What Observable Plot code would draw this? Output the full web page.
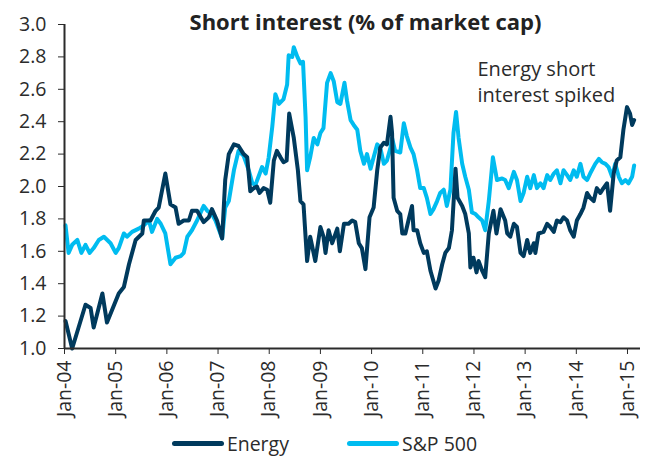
<!DOCTYPE html>
<html>
<head>
<meta charset="utf-8">
<script src="https://cdn.jsdelivr.net/npm/d3@7"></script>
<script src="https://cdn.jsdelivr.net/npm/@observablehq/plot@0.6"></script>
<style>
  html, body { margin: 0; padding: 0; background: #ffffff; }
  body { width: 645px; height: 461px; overflow: hidden; font-family: "Open Sans", "Noto Sans", sans-serif; color: #2b2b2b; }
  #chart svg { display: block; }
  #legend { display: flex; justify-content: center; align-items: center; gap: 58px; height: 36px; margin-left: 4px; }
  .item { display: flex; align-items: center; font-size: 19.5px; }
  .sw { width: 52px; height: 5px; border-radius: 3px; margin-right: 3px; }
</style>
</head>
<body>
<div id="chart"></div>
<div id="legend"></div>
<script>
// ---- Data ----
const title = "Short interest (% of market cap)";
const annotation = "Energy short\ninterest spiked";
const seriesNames = ["Energy", "S&P 500"];
const seriesColors = ["#003a5d", "#00bcf0"];

// decimal-year time stamps and values, Energy sector
const energyT = [2004.02,2004.15,2004.41,2004.51,2004.57,2004.74,2004.83,2005.06,2005.16,2005.26,2005.39,2005.52,2005.55,2005.68,2005.78,2005.84,2005.97,2006.07,2006.17,2006.23,2006.33,2006.43,2006.49,2006.59,2006.72,2006.82,2006.88,2006.98,2007.08,2007.14,2007.21,2007.31,2007.40,2007.50,2007.57,2007.63,2007.70,2007.76,2007.81,2007.89,2007.96,2008.02,2008.09,2008.15,2008.22,2008.28,2008.34,2008.39,2008.48,2008.56,2008.61,2008.67,2008.74,2008.80,2008.90,2009.00,2009.06,2009.10,2009.16,2009.23,2009.33,2009.38,2009.46,2009.55,2009.62,2009.68,2009.75,2009.81,2009.88,2009.96,2010.04,2010.11,2010.17,2010.24,2010.30,2010.37,2010.40,2010.43,2010.50,2010.56,2010.60,2010.66,2010.72,2010.79,2010.82,2010.89,2010.95,2011.02,2011.08,2011.15,2011.25,2011.31,2011.38,2011.44,2011.51,2011.57,2011.64,2011.68,2011.77,2011.83,2011.90,2011.93,2011.99,2012.05,2012.09,2012.16,2012.22,2012.29,2012.38,2012.44,2012.52,2012.61,2012.65,2012.71,2012.78,2012.84,2012.91,2012.97,2013.04,2013.10,2013.17,2013.20,2013.26,2013.36,2013.43,2013.49,2013.56,2013.62,2013.69,2013.75,2013.82,2013.88,2013.95,2014.01,2014.08,2014.14,2014.21,2014.27,2014.34,2014.40,2014.47,2014.53,2014.60,2014.66,2014.73,2014.79,2014.86,2014.92,2014.99,2015.05,2015.09,2015.13];
const energyV = [1.17,1.00,1.27,1.25,1.13,1.34,1.16,1.34,1.38,1.52,1.67,1.71,1.79,1.79,1.85,1.87,2.08,1.89,1.87,1.77,1.79,1.79,1.85,1.85,1.78,1.81,1.86,1.79,1.68,2.04,2.20,2.26,2.25,2.20,2.18,1.97,1.99,2.00,1.96,1.99,1.98,1.90,2.16,2.22,2.18,2.15,2.16,2.45,2.30,2.10,1.91,1.89,1.54,1.69,1.54,1.75,1.69,1.59,1.73,1.65,1.74,1.60,1.77,1.77,1.79,1.78,1.65,1.62,1.49,1.81,1.87,2.10,2.24,2.27,2.26,2.43,2.33,1.93,1.85,1.83,1.71,1.71,1.79,1.88,1.73,1.73,1.65,1.59,1.60,1.48,1.37,1.42,1.52,1.59,1.62,1.73,2.11,1.93,1.88,1.83,1.71,1.50,1.56,1.47,1.54,1.48,1.44,1.71,1.85,1.71,1.86,1.79,1.71,1.69,1.77,1.75,1.59,1.57,1.67,1.59,1.65,1.59,1.71,1.72,1.77,1.75,1.72,1.79,1.78,1.81,1.79,1.73,1.69,1.79,1.83,1.87,1.96,1.93,1.91,1.99,1.96,1.99,2.02,1.85,2.08,2.16,2.18,2.35,2.49,2.45,2.38,2.41];

// decimal-year time stamps and values, S&P 500
const spT = [2004.02,2004.08,2004.15,2004.25,2004.33,2004.41,2004.49,2004.57,2004.67,2004.77,2004.90,2005.00,2005.06,2005.16,2005.22,2005.32,2005.45,2005.55,2005.65,2005.71,2005.81,2005.88,2005.97,2006.07,2006.17,2006.27,2006.33,2006.40,2006.49,2006.59,2006.69,2006.72,2006.79,2006.88,2006.95,2007.08,2007.14,2007.21,2007.31,2007.40,2007.50,2007.60,2007.67,2007.73,2007.79,2007.86,2007.93,2007.99,2008.06,2008.12,2008.19,2008.28,2008.35,2008.38,2008.45,2008.48,2008.55,2008.61,2008.66,2008.71,2008.74,2008.80,2008.87,2008.94,2009.00,2009.06,2009.13,2009.20,2009.26,2009.33,2009.39,2009.47,2009.52,2009.59,2009.65,2009.72,2009.78,2009.85,2009.91,2009.98,2010.04,2010.11,2010.17,2010.24,2010.30,2010.37,2010.40,2010.46,2010.56,2010.63,2010.69,2010.76,2010.82,2010.89,2010.95,2011.02,2011.08,2011.15,2011.21,2011.28,2011.34,2011.41,2011.47,2011.54,2011.60,2011.65,2011.70,2011.77,2011.83,2011.90,2011.96,2012.03,2012.09,2012.16,2012.22,2012.29,2012.37,2012.45,2012.55,2012.61,2012.68,2012.78,2012.84,2012.91,2012.97,2013.04,2013.10,2013.17,2013.23,2013.30,2013.36,2013.43,2013.49,2013.56,2013.62,2013.69,2013.75,2013.82,2013.88,2013.95,2014.01,2014.08,2014.14,2014.21,2014.27,2014.37,2014.44,2014.50,2014.57,2014.63,2014.70,2014.76,2014.83,2014.89,2014.96,2015.02,2015.09,2015.13];
const spV = [1.76,1.59,1.64,1.67,1.59,1.64,1.59,1.62,1.67,1.69,1.65,1.59,1.62,1.71,1.69,1.72,1.74,1.76,1.79,1.72,1.80,1.77,1.71,1.52,1.56,1.57,1.59,1.69,1.73,1.79,1.86,1.88,1.85,1.83,1.79,1.68,1.87,1.91,2.10,2.22,2.19,2.10,2.02,2.01,2.06,2.12,2.08,2.18,2.37,2.57,2.51,2.54,2.63,2.81,2.80,2.86,2.80,2.76,2.77,2.43,2.10,2.18,2.30,2.26,2.33,2.36,2.64,2.70,2.65,2.52,2.51,2.64,2.53,2.41,2.38,2.35,2.22,2.14,2.20,2.11,2.18,2.26,2.24,2.14,2.16,2.24,2.30,2.22,2.21,2.39,2.31,2.24,2.20,2.10,1.99,1.99,1.93,1.83,1.86,1.91,1.96,1.98,1.88,1.98,2.33,2.46,2.30,2.14,2.06,1.98,1.84,1.83,1.81,1.79,1.73,1.91,2.18,2.04,2.05,2.04,1.99,2.09,2.04,1.91,1.96,2.06,1.99,2.07,1.99,2.02,1.99,2.07,2.04,2.08,2.10,2.02,2.10,2.07,2.04,2.10,2.06,2.14,2.06,2.04,2.08,2.14,2.17,2.15,2.14,2.12,2.06,2.14,2.06,2.02,2.04,2.02,2.06,2.13];

const xTickValues = [2004,2005,2006,2007,2008,2009,2010,2011,2012,2013,2014,2015];
const xTickLabels = ["Jan-04","Jan-05","Jan-06","Jan-07","Jan-08","Jan-09","Jan-10","Jan-11","Jan-12","Jan-13","Jan-14","Jan-15"];
const yTickValues = [1.0,1.2,1.4,1.6,1.8,2.0,2.2,2.4,2.6,2.8,3.0];

// ---- Build table ----
const rows = [
  ...energyT.map((t, i) => ({t, v: energyV[i], s: seriesNames[0]})),
  ...spT.map((t, i) => ({t, v: spV[i], s: seriesNames[1]}))
];
const order = [seriesNames[1], seriesNames[0]]; // draw Energy on top

const axisColor = "#2b2b2b";
const chart = Plot.plot({
  width: 645,
  height: 425,
  marginLeft: 64,
  marginRight: 5,
  marginTop: 24,
  marginBottom: 77,
  style: {fontFamily: '"Open Sans", "Noto Sans", sans-serif', fontSize: "19.5px", color: axisColor, background: "#ffffff"},
  x: {
    domain: [2004, 2015.254],
    ticks: xTickValues,
    tickFormat: d => xTickLabels[xTickValues.indexOf(d)],
    tickRotate: -90,
    tickSize: 6,
    tickPadding: 6,
    label: null
  },
  y: {
    domain: [1.0, 3.0],
    ticks: yTickValues,
    tickFormat: d => d.toFixed(1),
    tickSize: 6,
    tickPadding: 12,
    label: null
  },
  color: {domain: seriesNames, range: seriesColors},
  marks: [
    ...order.map(name => Plot.line(rows.filter(r => r.s === name), {
      x: "t", y: "v", stroke: "s", strokeWidth: 4, strokeLinejoin: "round", strokeLinecap: "round"
    })),
    Plot.ruleY([1.0], {stroke: axisColor, strokeWidth: 2}),
    Plot.ruleX([2004], {stroke: axisColor, strokeWidth: 2}),
    Plot.text([title], {frameAnchor: "top", lineAnchor: "top", dy: -10, dx: 13, fontSize: 22, fontWeight: "bold", fill: "#222"}),
    Plot.text([annotation], {frameAnchor: "top-left", lineAnchor: "top", textAnchor: "start", dx: 413, dy: 33, fontSize: 20, lineHeight: 1.3, fill: "#2b2b2b"})
  ]
});
document.getElementById("chart").appendChild(chart);

// ---- Legend ----
const legend = document.getElementById("legend");
seriesNames.forEach((name, i) => {
  const it = document.createElement("div");
  it.className = "item";
  const sw = document.createElement("span");
  sw.className = "sw";
  sw.style.background = seriesColors[i];
  const lb = document.createElement("span");
  lb.textContent = name;
  it.appendChild(sw);
  it.appendChild(lb);
  legend.appendChild(it);
});
</script>
</body>
</html>
